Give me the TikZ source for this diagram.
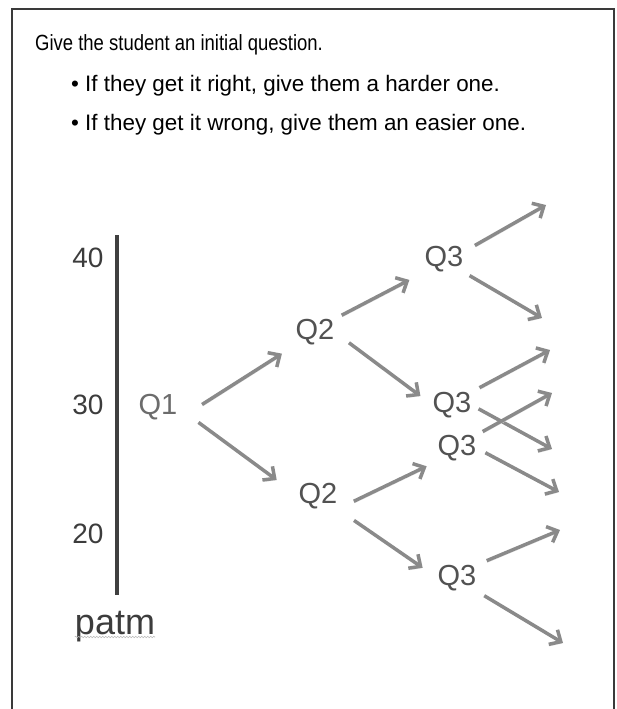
\documentclass[tikz,border=0pt]{standalone}
\usepackage{fontspec}
\setmainfont{Liberation Sans}
\newfontfamily\introfont{Liberation Sans}[FakeStretch=0.84]
\usepackage{tikz}
\usetikzlibrary{arrows.meta,decorations.pathmorphing}
\definecolor{framegray}{HTML}{3A3A3A}
\definecolor{axisgray}{HTML}{404040}
\definecolor{labelgray}{HTML}{3C3C3C}
\definecolor{qgray}{HTML}{525252}
\definecolor{arrowgray}{HTML}{8A8A8A}
\definecolor{squiggle}{HTML}{BBBBBB}

\begin{document}
\begin{tikzpicture}[x=1pt,y=-1pt,
  qlab/.style={text=qgray,inner sep=0pt,font=\fontsize{29}{29}\selectfont},
  ylab/.style={text=labelgray,inner sep=0pt,font=\fontsize{28}{28}\selectfont},
  arr/.style={draw=arrowgray,line width=3.5pt,-{Straight Barb[length=9pt,width=17pt]},
    preaction={draw=black!9,transform canvas={shift={(0.8pt,-1.8pt)}}}},
  txt/.style={anchor=base west,inner sep=0pt,font=\fontsize{22.4}{22.4}\selectfont}]
\useasboundingbox (0,0) rectangle (617,709);
% frame
\draw[framegray,line width=2pt] (12,709) -- (12,9) -- (614,9) -- (614,709);
% header
\node[txt,font=\introfont\fontsize{22}{22}\selectfont] (intro) at (35,51) {Give the student an initial question.};
\node[txt] (right) at (71,91) {\textbullet\ If they get it right, give them a harder one.};
\node[txt] (wrong) at (71,130) {\textbullet\ If they get it wrong, give them an easier one.};
% scale
\coordinate (top) at (117,235);
\coordinate (bot) at (117,595);
\draw[axisgray,line width=3.5pt] (top) -- (bot);
\node[ylab] (s40) at (88,258) {40};
\node[ylab] (s30) at (88,405) {30};
\node[ylab] (s20) at (88,534) {20};
\node[ylab,anchor=base,font=\fontsize{36}{36}\selectfont] (patm) at (115,634) {patm};
\draw[squiggle,line width=0.6pt,decorate,decoration={snake,amplitude=0.8pt,segment length=3pt}]
  ([yshift=-3pt]patm.base west) -- ([yshift=-3pt]patm.base east);
% questions
\node[qlab,text=qgray!85] (q1) at (158,407) {Q1};
\node[qlab] (q2u) at (315,332) {Q2};
\node[qlab] (q2l) at (318,496) {Q2};
\node[qlab] (q3t) at (444,259) {Q3};
\node[qlab] (q3a) at (452,405) {Q3};
\node[qlab] (q3b) at (457,448) {Q3};
\node[qlab] (q3l) at (457,578) {Q3};
% next questions
\coordinate (t1) at (546,205);
\coordinate (t2) at (542,318);
\coordinate (t3) at (550,350);
\coordinate (t4) at (552,449);
\coordinate (t5) at (552,393);
\coordinate (t6) at (559,492);
\coordinate (t7) at (560,530);
\coordinate (t8) at (563,643);
\draw[arr,shorten <=29pt,shorten >=16pt] (q1.south east) -- (q2u.south west);
\draw[arr,shorten <=26pt,shorten >=27pt] (q1.east) -- (q2l.west);
\draw[arr,shorten <=8pt,shorten >=17pt] (q2u.north east) -- (q3t.south west);
\draw[arr,shorten <=18pt,shorten >=15pt] (q2u.east) -- (q3a.west);
\draw[arr,shorten <=18pt,shorten >=12pt] (q2l.south east) -- (q3b.south west);
\draw[arr,shorten <=20pt,shorten >=18pt] (q2l.south east) -- (q3l.west);
\draw[arr,shorten <=13pt] (q3t.20) -- (t1);
\draw[arr,shorten <=7pt] (q3t.south east) -- (t2);
\draw[arr,shorten <=9pt] (q3a.north east) -- (t3);
\draw[arr,shorten <=8pt] (q3a.east) -- (t4);
\draw[arr,shorten <=7pt] (q3b.north east) -- (t5);
\draw[arr,shorten <=10pt] (q3b.east) -- (t6);
\draw[arr,shorten <=11pt] (q3l.north east) -- (t7);
\draw[arr,shorten <=9pt] (q3l.south east) -- (t8);
\end{tikzpicture}
\end{document}
